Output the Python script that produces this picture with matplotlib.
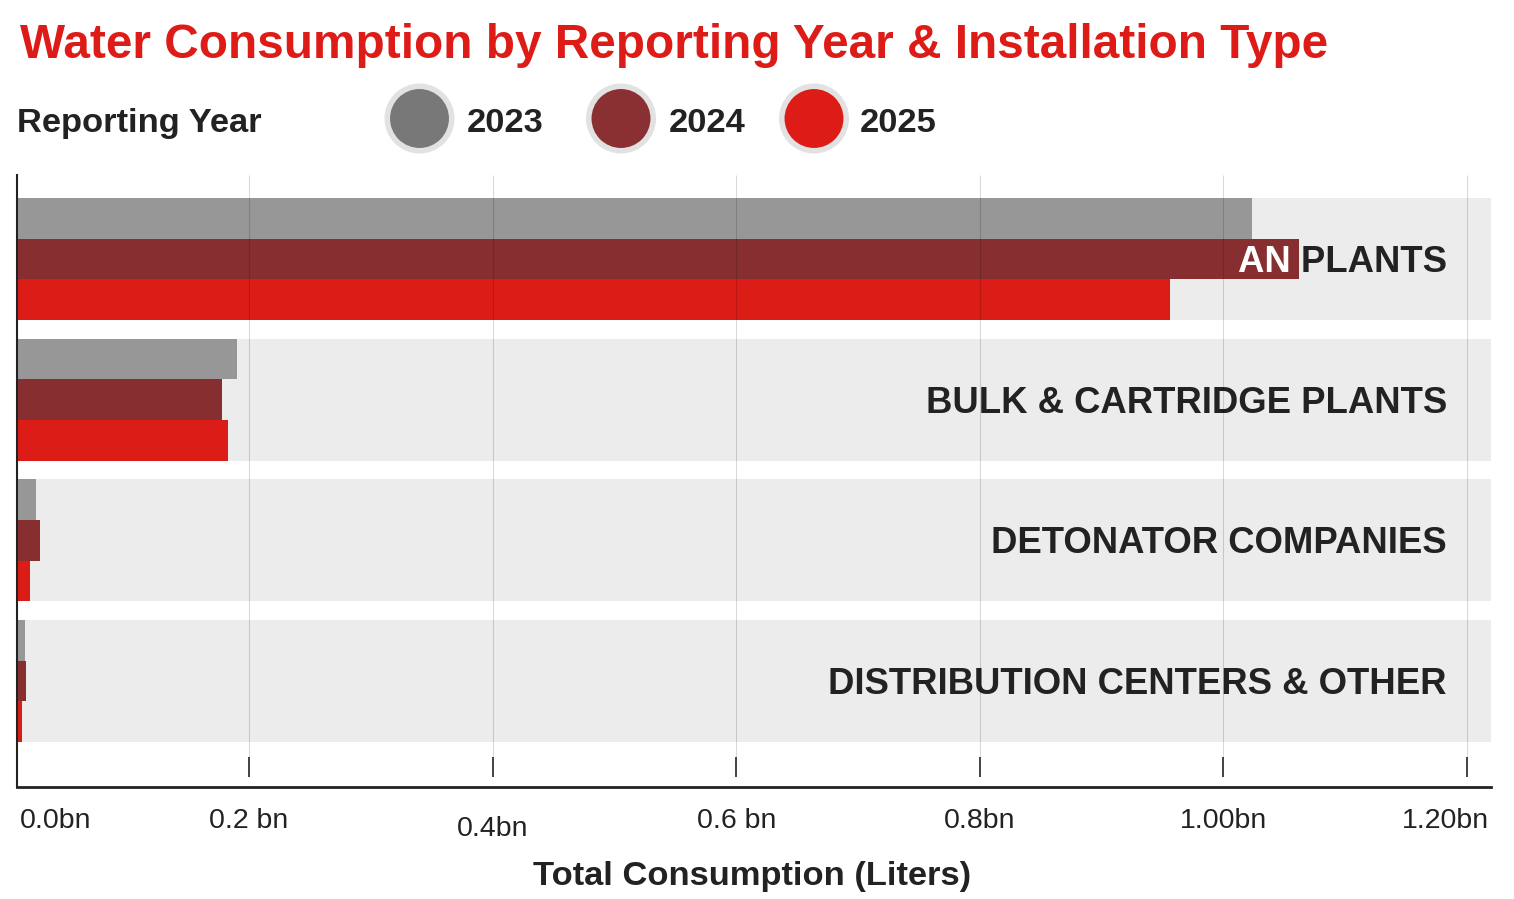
import matplotlib
matplotlib.use("Agg")
import matplotlib.pyplot as plt
import matplotlib.transforms as mtransforms
from matplotlib.patches import Ellipse

plt.rcParams["font.family"] = ["Liberation Sans", "DejaVu Sans"]

categories = ["AN PLANTS", "BULK & CARTRIDGE PLANTS", "DETONATOR COMPANIES", "DISTRIBUTION CENTERS & OTHER"]
years = ["2023", "2024", "2025"]
# total consumption, billions of liters
vals_2023 = [1.0235, 0.190, 0.0251, 0.0158]
vals_2024 = [1.062, 0.178, 0.0287, 0.0172]
vals_2025 = [0.956, 0.183, 0.0204, 0.0139]
tick_values = [0.0, 0.2, 0.4, 0.6, 0.8, 1.0, 1.2]
tick_labels = ["0.0bn", "0.2 bn", "0.4bn", "0.6 bn", "0.8bn", "1.00bn", "1.20bn"]

bar_colors = ["#979797", "#872e30", "#dc1c16"]
legend_colors = ["#787878", "#8a2f32", "#dd1c17"]
dark = "#222222"
W, H = 1514, 899

fig = plt.figure(figsize=(W / 100, H / 100), dpi=100)
ax = fig.add_axes([17 / W, (H - 787) / H, 1474 / W, 612 / H])

series = [vals_2023, vals_2024, vals_2025]
band = 0.867
bh = band / 3

# background bands
for i in range(len(categories)):
    ax.axhspan(i - band / 2, i + band / 2, color="#ececec", lw=0, zorder=0)

bars = []
for j, vals in enumerate(series):
    ys = [i + (j - 1) * bh for i in range(len(categories))]
    b = ax.barh(ys, vals, height=bh, color=bar_colors[j], lw=0, zorder=2)
    bars.append(b)

ax.set_xlim(0.0095, 1.2197)
ax.set_ylim(3.753, -0.597)

# category labels: dark under the bars, white where a bar covers them
lab_tr = mtransforms.blended_transform_factory(ax.transAxes, ax.transData)
cap_shift = 0.092
for i, cat in enumerate(categories):
    ax.text(0.9701, i + cap_shift, cat, transform=lab_tr, ha="right", va="baseline",
            fontsize=26.3, fontweight="bold", color=dark, zorder=1)
    for j in range(3):
        t = ax.text(0.9701, i + cap_shift, cat, transform=lab_tr, ha="right", va="baseline",
                    fontsize=26.3, fontweight="bold", color="white", zorder=3)
        box = mtransforms.TransformedBbox(bars[j].patches[i].get_bbox(), ax.transData)
        t.set_clip_box(box)
        t.set_clip_on(True)

# gridlines, tick marks and tick labels
tick_tr = mtransforms.blended_transform_factory(ax.transData, ax.transAxes)
ax.vlines(tick_values[1:], 0.049, 1, transform=tick_tr, color="black", alpha=0.15, lw=0.8, zorder=4)
ax.vlines(tick_values[1:], 0.0163, 0.049, transform=tick_tr, color=dark, lw=1.2, zorder=4)
ax.set_xticks([])
ax.set_yticks([])
for k, (v, lab) in enumerate(zip(tick_values, tick_labels)):
    y = -0.080 if k == 2 else -0.067
    if k == 0:
        ax.text(0.002, y, lab, transform=ax.transAxes, ha="left", va="baseline",
                fontsize=20.5, color=dark)
    elif k == len(tick_values) - 1:
        ax.text(0.9986, y, lab, transform=ax.transAxes, ha="right", va="baseline",
                fontsize=20.5, color=dark)
    else:
        ax.text(v, y, lab, transform=tick_tr, ha="center", va="baseline",
                fontsize=20.5, color=dark)

for s in ["top", "right"]:
    ax.spines[s].set_visible(False)
ax.spines["left"].set_color(dark)
ax.spines["left"].set_linewidth(1.5)
ax.spines["bottom"].set_color(dark)
ax.spines["bottom"].set_linewidth(2)

fig.text(752 / W, 1 - 885 / H, "Total Consumption (Liters)", ha="center", va="baseline",
         fontsize=24.8, fontweight="bold", color=dark)

# title and legend
fig.text(20 / W, 1 - 58 / H, "Water Consumption by Reporting Year & Installation Type",
         ha="left", va="baseline", fontsize=34.4, fontweight="bold", color="#dd1c17")
fig.text(17 / W, 1 - 132 / H, "Reporting Year", ha="left", va="baseline",
         fontsize=24.8, fontweight="bold", color=dark)
circle_x = [419.5, 621, 814]
text_x = [467, 669, 860]
for cx, tx, yr, c in zip(circle_x, text_x, years, legend_colors):
    fig.add_artist(Ellipse((cx / W, 1 - 118.5 / H), 64.5 / W, 64.5 / H,
                           transform=fig.transFigure, facecolor=c,
                           edgecolor="#e2e2e2", lw=4))
    fig.text(tx / W, 1 - 132 / H, yr, ha="left", va="baseline",
             fontsize=24.8, fontweight="bold", color=dark)

fig.savefig("out.png", dpi=100)
